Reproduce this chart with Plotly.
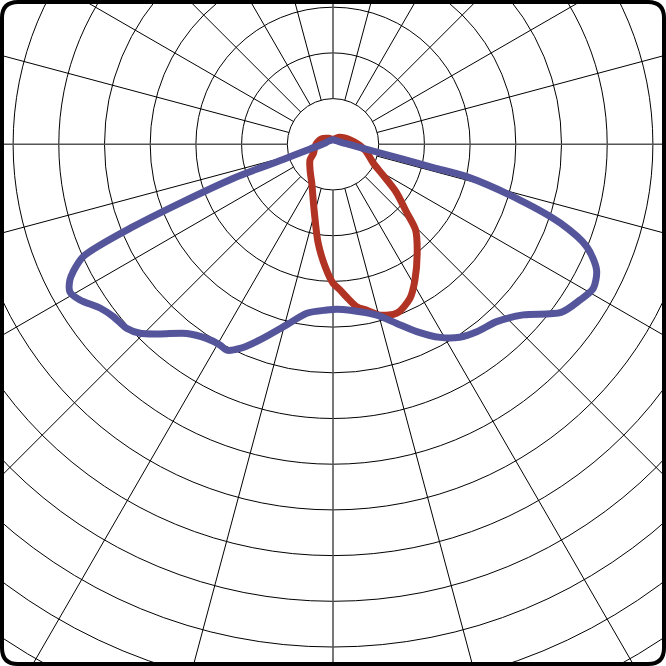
import numpy as np
import plotly.graph_objects as go

# Polar grid definition (cd/klm, grid step 100)
grid_step = 100
grid_circles = [grid_step * k for k in range(1, 16)]
radial_angles = list(range(0, 360, 15))
hole_radius = 100
grid_outer = 1600

# Blue curve: gamma (deg, 0 = straight down, + = right), intensity
blue_gamma = [-180, -150, -120, -99, -78.5, -73.1, -71.2, -67.6, -65.8, -63.9, -62.7,
              -60.7, -58.4, -54.9, -51.9, -48.3, -45.6, -42.4, -37.7, -33.1, -29.4,
              -27.3, -24.5, -20.5, -14.4, -8.8, -2.2, 1.3, 5.9, 14.4, 19.6, 24.1,
              29.0, 33.3, 37.5, 42.7, 48.1, 53.6, 57.8, 61.0, 64.5, 68.0, 70.9,
              73.4, 76.4, 76.9, 78.1, 80.0, 88.8, 120, 150]
blue_value = [10, 10, 13, 17.5, 51, 114, 230, 473, 599, 633, 648,
              660, 650, 623, 611, 605, 591, 562, 523, 507, 504,
              507, 491, 457, 408, 374, 363, 361, 365, 386, 416, 449,
              483, 505, 517, 528, 559, 620, 639, 651, 639, 599, 526,
              427, 301, 225, 150, 97, 37, 13, 10]

# Red curve
red_gamma = [-180, -145, -114.8, -88, -65.4, -55.7, -40.5, -28.6, -16.3, -8.6, -3.7, 0,
             2.75, 5.0, 8.3, 11.4, 15.5, 20.7, 26.5, 31.1, 38.5, 44.0, 47.4,
             52.9, 58.4, 64.8, 79.9, 103, 140]
red_value = [11, 16, 28, 38, 47, 61, 77, 97, 148, 218, 268, 304,
             319, 335, 359, 370, 388, 395, 377, 347, 296, 260, 218,
             173, 128, 98, 71, 40, 20]

BLUE = "#55559b"
RED = "#b03324"

# pixel geometry: 45.7 px per grid step, center at (333, 144.3)
px_per_unit = 45.7 / grid_step
W = H = 666
cx_px, cy_px = 333, 144.3
x_range = [-cx_px / px_per_unit, (W - cx_px) / px_per_unit]
y_range = [-(H - cy_px) / px_per_unit, cy_px / px_per_unit]


def to_xy(gamma, value):
    g = np.radians(np.asarray(gamma, dtype=float))
    v = np.asarray(value, dtype=float)
    x = v * np.sin(g)
    y = -v * np.cos(g)
    return np.append(x, x[0]), np.append(y, y[0])


fig = go.Figure()

shapes = []
for r in grid_circles:
    shapes.append(dict(type="circle", xref="x", yref="y", x0=-r, x1=r, y0=-r, y1=r,
                       line=dict(color="black", width=1), layer="below"))
for a in radial_angles:
    t = np.radians(a)
    major = a % 90 == 0
    shapes.append(dict(type="line", xref="x", yref="y",
                       x0=hole_radius * np.sin(t), y0=-hole_radius * np.cos(t),
                       x1=grid_outer * np.sin(t), y1=-grid_outer * np.cos(t),
                       line=dict(color="#555555" if major else "black",
                                 width=1.6 if major else 1),
                       layer="below"))

# rounded frame (paper coords)
i = 2 / W
rr = 16 / W
x0, x1, y0, y1 = i, 1 - i, i, 1 - i
path = (f"M {x0+rr},{y0} L {x1-rr},{y0} Q {x1},{y0} {x1},{y0+rr} "
        f"L {x1},{y1-rr} Q {x1},{y1} {x1-rr},{y1} L {x0+rr},{y1} "
        f"Q {x0},{y1} {x0},{y1-rr} L {x0},{y0+rr} Q {x0},{y0} {x0+rr},{y0} Z")
shapes.append(dict(type="path", xref="paper", yref="paper", path=path,
                   line=dict(color="black", width=4), layer="above"))

bx, by = to_xy(blue_gamma, blue_value)
rx, ry = to_xy(red_gamma, red_value)

fig.add_trace(go.Scatter(x=rx, y=ry, mode="lines",
                         line=dict(color=RED, width=7, shape="spline", smoothing=0.8),
                         hoverinfo="skip", showlegend=False))
fig.add_trace(go.Scatter(x=bx, y=by, mode="lines",
                         line=dict(color=BLUE, width=7, shape="spline", smoothing=0.8),
                         hoverinfo="skip", showlegend=False))

fig.update_layout(
    width=W, height=H, autosize=False,
    margin=dict(l=0, r=0, t=0, b=0, pad=0),
    paper_bgcolor="white", plot_bgcolor="white",
    shapes=shapes,
    xaxis=dict(range=x_range, visible=False, fixedrange=True),
    yaxis=dict(range=y_range, visible=False, fixedrange=True),
    showlegend=False,
)

fig.write_html("out.html", config={"displayModeBar": False},
               post_script="document.body.style.margin='0';document.body.style.padding='0';")
